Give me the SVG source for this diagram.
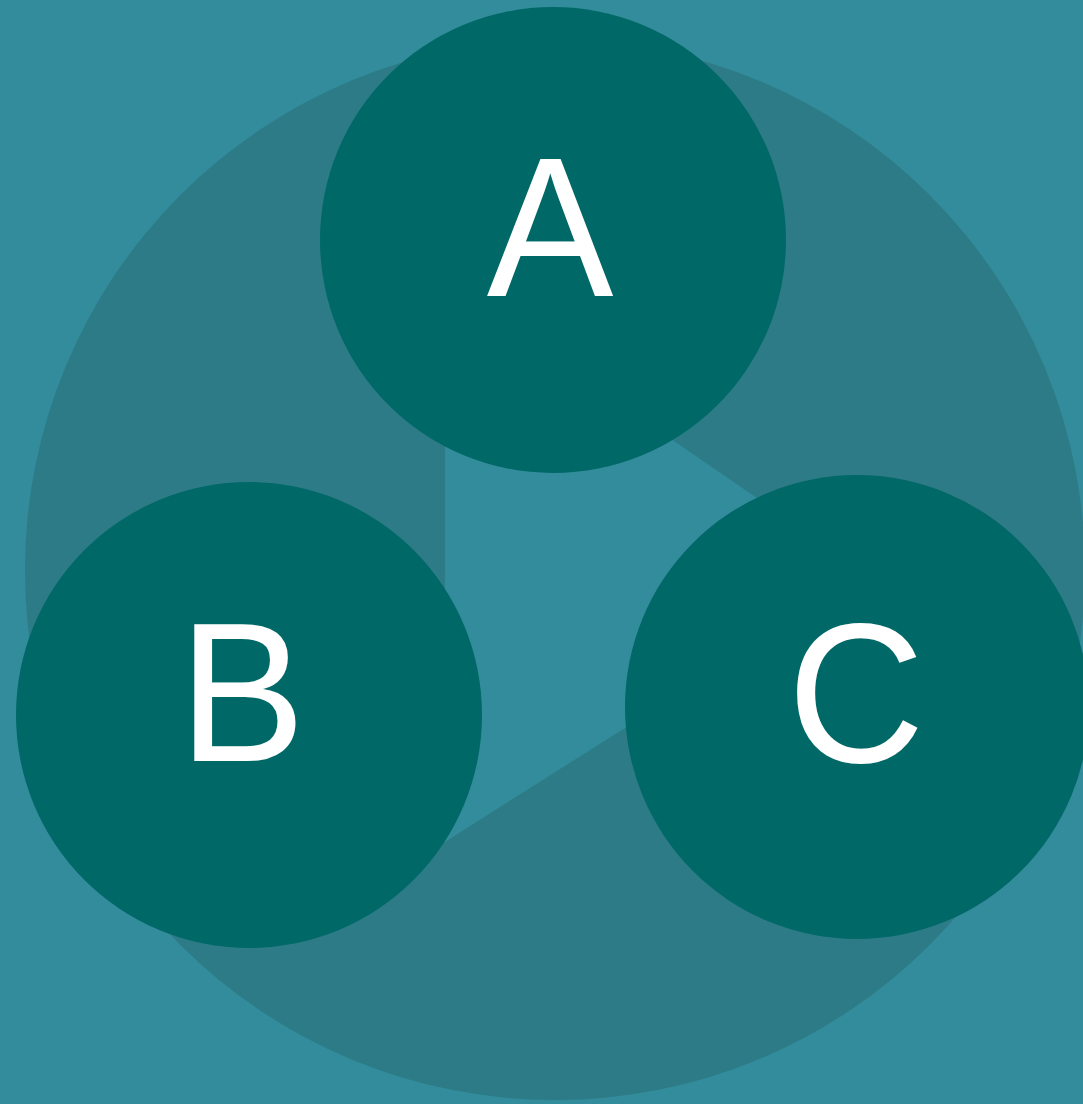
<svg xmlns="http://www.w3.org/2000/svg" width="1083" height="1104" viewBox="0 0 1083 1104">
  <style>
    .node { fill: #006866; }
    .label { fill: #ffffff; font-family: "Liberation Sans", Arial, sans-serif; font-size: 190px; text-anchor: middle; }
  </style>
  <rect x="0" y="0" width="1083" height="1104" fill="#328C9B"/>
  <g id="connectors">
    <circle cx="555" cy="570" r="530" fill="#2C7B86"/>
    <polygon points="445,284 868,574 445,842" fill="#328C9B"/>
  </g>
  <g id="node-a">
    <circle class="node" cx="553" cy="240" r="233"/>
    <text class="label" transform="translate(550,296) scale(1,1.045)">A</text>
  </g>
  <g id="node-b">
    <circle class="node" cx="249" cy="715" r="233"/>
    <text class="label" transform="translate(242,761) scale(1,1.045)">B</text>
  </g>
  <g id="node-c">
    <circle class="node" cx="857" cy="707" r="232"/>
    <text class="label" transform="translate(856,762) scale(1,1.045)">C</text>
  </g>
</svg>
